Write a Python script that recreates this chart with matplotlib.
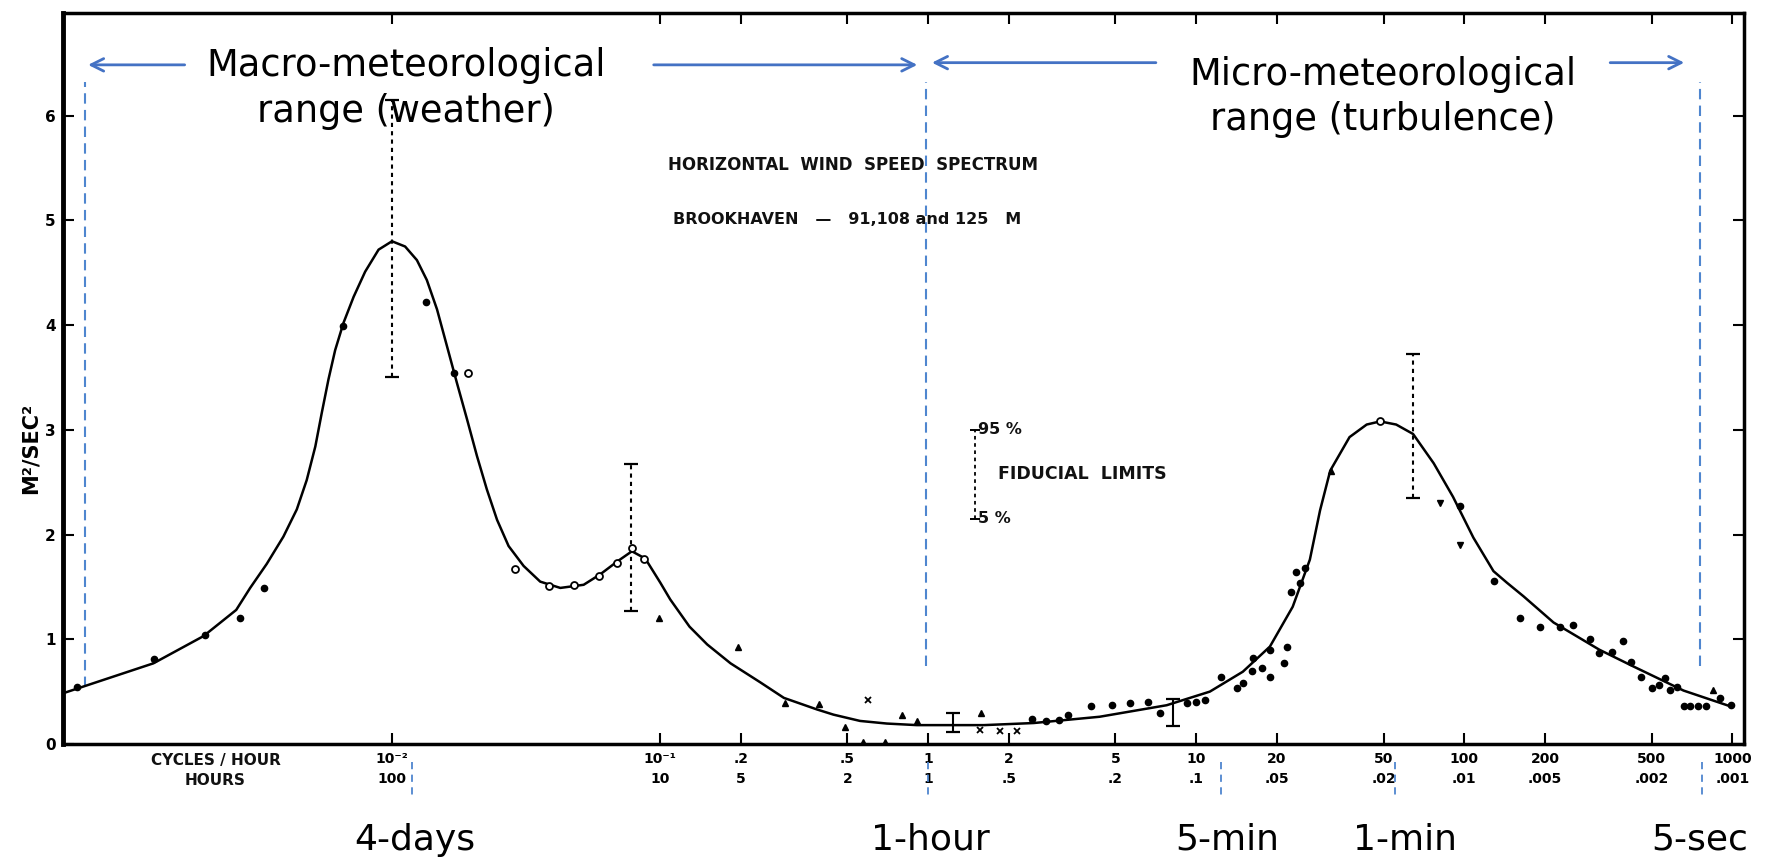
import numpy as np
import matplotlib
matplotlib.use("Agg")
import matplotlib.pyplot as plt
from matplotlib import transforms

# log10(cycles / hour) along the smoothed spectrum curve, and its value in m^2/s^2
curve_logf = [-3.220, -2.890, -2.703, -2.581, -2.529, -2.467, -2.405, -2.355, -2.318, -2.286,
              -2.262, -2.237, -2.212, -2.181, -2.143, -2.100, -2.050, -2.000, -1.951, -1.907,
              -1.870, -1.832, -1.795, -1.758, -1.720, -1.683, -1.646, -1.608, -1.565, -1.509,
              -1.447, -1.372, -1.285, -1.223, -1.161, -1.105, -1.055, -0.999, -0.962, -0.890,
              -0.824, -0.737, -0.627, -0.538, -0.415, -0.353, -0.254, -0.154, -0.042, 0.208,
              0.394, 0.640, 0.890, 1.051, 1.174, 1.275, 1.360, 1.424, 1.462, 1.500,
              1.572, 1.636, 1.686, 1.746, 1.809, 1.886, 1.958, 2.034, 2.109, 2.159,
              2.221, 2.333, 2.504, 2.631, 2.818, 2.992]
curve_s = [0.49, 0.77, 1.03, 1.28, 1.49, 1.72, 1.98, 2.24, 2.52, 2.84,
           3.16, 3.48, 3.76, 4.02, 4.27, 4.51, 4.72, 4.80, 4.75, 4.62,
           4.43, 4.15, 3.80, 3.45, 3.10, 2.75, 2.43, 2.14, 1.89, 1.70,
           1.55, 1.49, 1.52, 1.62, 1.74, 1.84, 1.77, 1.54, 1.38, 1.12,
           0.95, 0.77, 0.59, 0.44, 0.33, 0.28, 0.22, 0.195, 0.18, 0.18,
           0.20, 0.26, 0.37, 0.50, 0.69, 0.93, 1.31, 1.76, 2.23, 2.61,
           2.93, 3.05, 3.08, 3.05, 2.96, 2.68, 2.36, 1.97, 1.65, 1.54,
           1.41, 1.16, 0.90, 0.74, 0.51, 0.36]

# measured points, grouped by the symbol used in the original figure
dot_logf = [-3.174, -2.886, -2.699, -2.568, -2.479, -2.182, -1.873, -1.770, 0.386, 0.441,
            0.487, 0.521, 0.606, 0.686, 0.754, 0.822, 0.864, 0.966, 1.000, 1.034,
            1.093, 1.153, 1.174, 1.208, 1.212, 1.246, 1.275, 1.275, 1.326, 1.339,
            1.352, 1.373, 1.386, 1.407, 1.983, 2.110, 2.208, 2.284, 2.356, 2.407,
            2.470, 2.504, 2.551, 2.593, 2.623, 2.661, 2.699, 2.725, 2.750, 2.767,
            2.792, 2.818, 2.843, 2.873, 2.903, 2.953, 2.996]
dot_s = [0.54, 0.81, 1.04, 1.20, 1.49, 3.99, 4.22, 3.54, 0.24, 0.22,
         0.23, 0.28, 0.36, 0.37, 0.39, 0.40, 0.30, 0.39, 0.40, 0.42,
         0.64, 0.53, 0.58, 0.70, 0.82, 0.73, 0.64, 0.90, 0.77, 0.93,
         1.45, 1.64, 1.54, 1.68, 2.27, 1.56, 1.20, 1.12, 1.12, 1.14,
         1.00, 0.87, 0.88, 0.98, 0.78, 0.64, 0.53, 0.56, 0.63, 0.52,
         0.54, 0.36, 0.36, 0.36, 0.36, 0.44, 0.37]
circ_logf = [-1.716, -1.542, -1.415, -1.322, -1.229, -1.161, -1.106, -1.059, 1.686]
circ_s = [3.54, 1.67, 1.51, 1.52, 1.60, 1.73, 1.87, 1.77, 3.08]
tri_logf = [-1.004, -0.708, -0.534, -0.407, -0.309, -0.242, -0.161, -0.097, -0.042, 0.199,
            1.504, 2.928]
tri_s = [1.20, 0.93, 0.39, 0.38, 0.16, 0.02, 0.02, 0.28, 0.22, 0.30, 2.61, 0.52]
vtri_logf = [1.911, 1.983]
vtri_s = [2.30, 1.90]
x_logf = [-0.225, 0.195, 0.267, 0.331]
x_s = [0.42, 0.13, 0.12, 0.12]

# confidence bars: position, lower, upper, dotted or solid
bar_logf = [-2.0, -1.110, 0.093, 0.915, 1.809]
bar_lo = [3.50, 1.27, 0.11, 0.17, 2.35]
bar_hi = [6.15, 2.67, 0.30, 0.43, 3.72]
bar_dotted = [True, True, False, False, True]

# legend bar for fiducial limits
fid_logf = 0.174
fid_lo, fid_hi = 2.15, 3.00

tick_freq = [0.01, 0.1, 0.2, 0.5, 1, 2, 5, 10, 20, 50, 100, 200, 500, 1000]
tick_cph = ["10⁻²", "10⁻¹", ".2", ".5", "1", "2", "5", "10", "20", "50", "100", "200", "500", "1000"]
tick_hours = ["100", "10", "5", "2", "1", ".5", ".2", ".1", ".05", ".02", ".01", ".005", ".002", ".001"]

# periods marked below the axis (log10 cycles/hour of the mark, and of the label centre)
period_names = ["4-days", "1-hour", "5-min", "1-min", "5-sec"]
period_logf = [-1.924, 0.0, 1.093, 1.742, 2.885]
period_label_logf = [-1.915, 0.008, 1.114, 1.780, 2.880]
# dashed boundaries of the two ranges (log10 cycles/hour, bottom end in m^2/s^2)
edge_logf = [-3.144, -0.008, 2.881]
edge_bottom = [0.54, 0.74, 0.74]

BLUE = "#4472C4"
DASH_BLUE = "#4F86CF"
LETTER = dict(fontweight="bold", family="DejaVu Sans", color="#111111")

fig = plt.figure(figsize=(17.81, 8.58), dpi=100)
ax = fig.add_axes([0.0351, 0.1329, 0.9439, 0.852])

ax.plot(10 ** np.array(curve_logf), curve_s, color="black", lw=1.8, zorder=3)
ax.plot(10 ** np.array(dot_logf), dot_s, "o", ms=4.5, color="black", zorder=4)
ax.plot(10 ** np.array(circ_logf), circ_s, "o", ms=5, mfc="white", mec="black", mew=1.3, zorder=4)
ax.plot(10 ** np.array(tri_logf), tri_s, "^", ms=4.5, color="black", zorder=4)
ax.plot(10 ** np.array(vtri_logf), vtri_s, "v", ms=4.5, color="black", zorder=4)
ax.plot(10 ** np.array(x_logf), x_s, "x", ms=4.5, mew=1.3, color="black", zorder=4)

for lf, lo, hi, dotted in zip(bar_logf, bar_lo, bar_hi, bar_dotted):
    f = 10 ** lf
    ax.vlines(f, lo, hi, color="black", lw=1.5, linestyles=(0, (2, 2)) if dotted else "solid", zorder=3)
    ax.plot([f, f], [lo, hi], "_", ms=10, mew=1.6, color="black", zorder=3)

f = 10 ** fid_logf
ax.vlines(f, fid_lo, fid_hi, color="black", lw=1.3, linestyles=(0, (2, 2)))
ax.plot([f, f], [fid_lo, fid_hi], "_", ms=7, mew=1.4, color="black")
ax.text(f * 1.03, fid_hi, "95 %", fontsize=11.5, va="center", ha="left", **LETTER)
ax.text(f * 1.03, fid_lo, "5 %", fontsize=11.5, va="center", ha="left", **LETTER)
ax.text(f * 1.22, (fid_lo + fid_hi) / 2, "FIDUCIAL  LIMITS", fontsize=12.5, va="center", ha="left", **LETTER)

ax.text(0.47, 0.792, "HORIZONTAL  WIND  SPEED  SPECTRUM", transform=ax.transAxes,
        fontsize=12, ha="center", va="center", **LETTER)
ax.text(0.467, 0.718, "BROOKHAVEN   —   91,108 and 125   M", transform=ax.transAxes,
        fontsize=11.5, ha="center", va="center", **LETTER)

# blue dashed range boundaries
for lf, bottom in zip(edge_logf, edge_bottom):
    ax.vlines(10 ** lf, bottom, 6.32, color=DASH_BLUE, lw=1.5, linestyles=(0, (5, 3)), zorder=2)

trans = transforms.blended_transform_factory(ax.transData, ax.transAxes)
arrow = dict(arrowstyle="->,head_length=0.9,head_width=0.45", color=BLUE, lw=2)
ax.annotate("", xy=(10 ** edge_logf[0], 0.929), xytext=(10 ** -2.763, 0.929),
            xycoords=trans, textcoords=trans, arrowprops=arrow)
ax.annotate("", xy=(10 ** -0.03, 0.929), xytext=(10 ** -1.034, 0.929),
            xycoords=trans, textcoords=trans, arrowprops=arrow)
ax.annotate("", xy=(10 ** 0.004, 0.932), xytext=(10 ** 0.86, 0.932),
            xycoords=trans, textcoords=trans, arrowprops=arrow)
ax.annotate("", xy=(10 ** 2.831, 0.932), xytext=(10 ** 2.534, 0.932),
            xycoords=trans, textcoords=trans, arrowprops=arrow)
ax.text(10 ** -1.948, 0.897, "Macro-meteorological\nrange (weather)", transform=trans,
        fontsize=26.5, ha="center", va="center", linespacing=1.32, color="black", family="DejaVu Sans")
ax.text(10 ** 1.695, 0.885, "Micro-meteorological\nrange (turbulence)", transform=trans,
        fontsize=26.5, ha="center", va="center", linespacing=1.28, color="black", family="DejaVu Sans")

# period markers under the axis
for lf, llf, name in zip(period_logf, period_label_logf, period_names):
    ax.plot([10 ** lf] * 2, [-0.025, -0.075], transform=trans, clip_on=False,
            color=DASH_BLUE, lw=1.3, ls=(0, (4, 3)))
    ax.text(10 ** llf, -0.145, name, transform=trans, fontsize=26, ha="center", va="baseline",
            family="DejaVu Sans", color="black")

ax.set_xscale("log")
ax.set_xlim(10 ** -3.229, 10 ** 3.042)
ax.set_ylim(0, 6.98)
ax.set_xticks(tick_freq)
ax.set_xticklabels([a + "\n" + b for a, b in zip(tick_cph, tick_hours)])
ax.xaxis.set_minor_locator(matplotlib.ticker.NullLocator())
ax.set_yticks(range(7))
for lab in ax.get_xticklabels():
    lab.set_linespacing(1.5)
    lab.set_fontweight("bold")
    lab.set_fontsize(10)
for lab in ax.get_yticklabels():
    lab.set_fontweight("bold")
    lab.set_fontsize(11)
ax.tick_params(axis="both", direction="in", top=True, right=True, length=8, width=1.5, pad=5)
ax.tick_params(axis="x", pad=6)
ax.text(0.091, -0.012, "CYCLES / HOUR\nHOURS", transform=ax.transAxes, fontsize=11,
        ha="center", va="top", linespacing=1.4, **LETTER)
ax.set_ylabel("M²/SEC²", fontsize=15, fontweight="bold")
ax.yaxis.set_label_coords(-0.013, 0.404)
for side in ["left", "right", "top", "bottom"]:
    ax.spines[side].set_linewidth(2.5)
ax.spines["left"].set_linewidth(3.5)

fig.savefig("out.png", dpi=100)
